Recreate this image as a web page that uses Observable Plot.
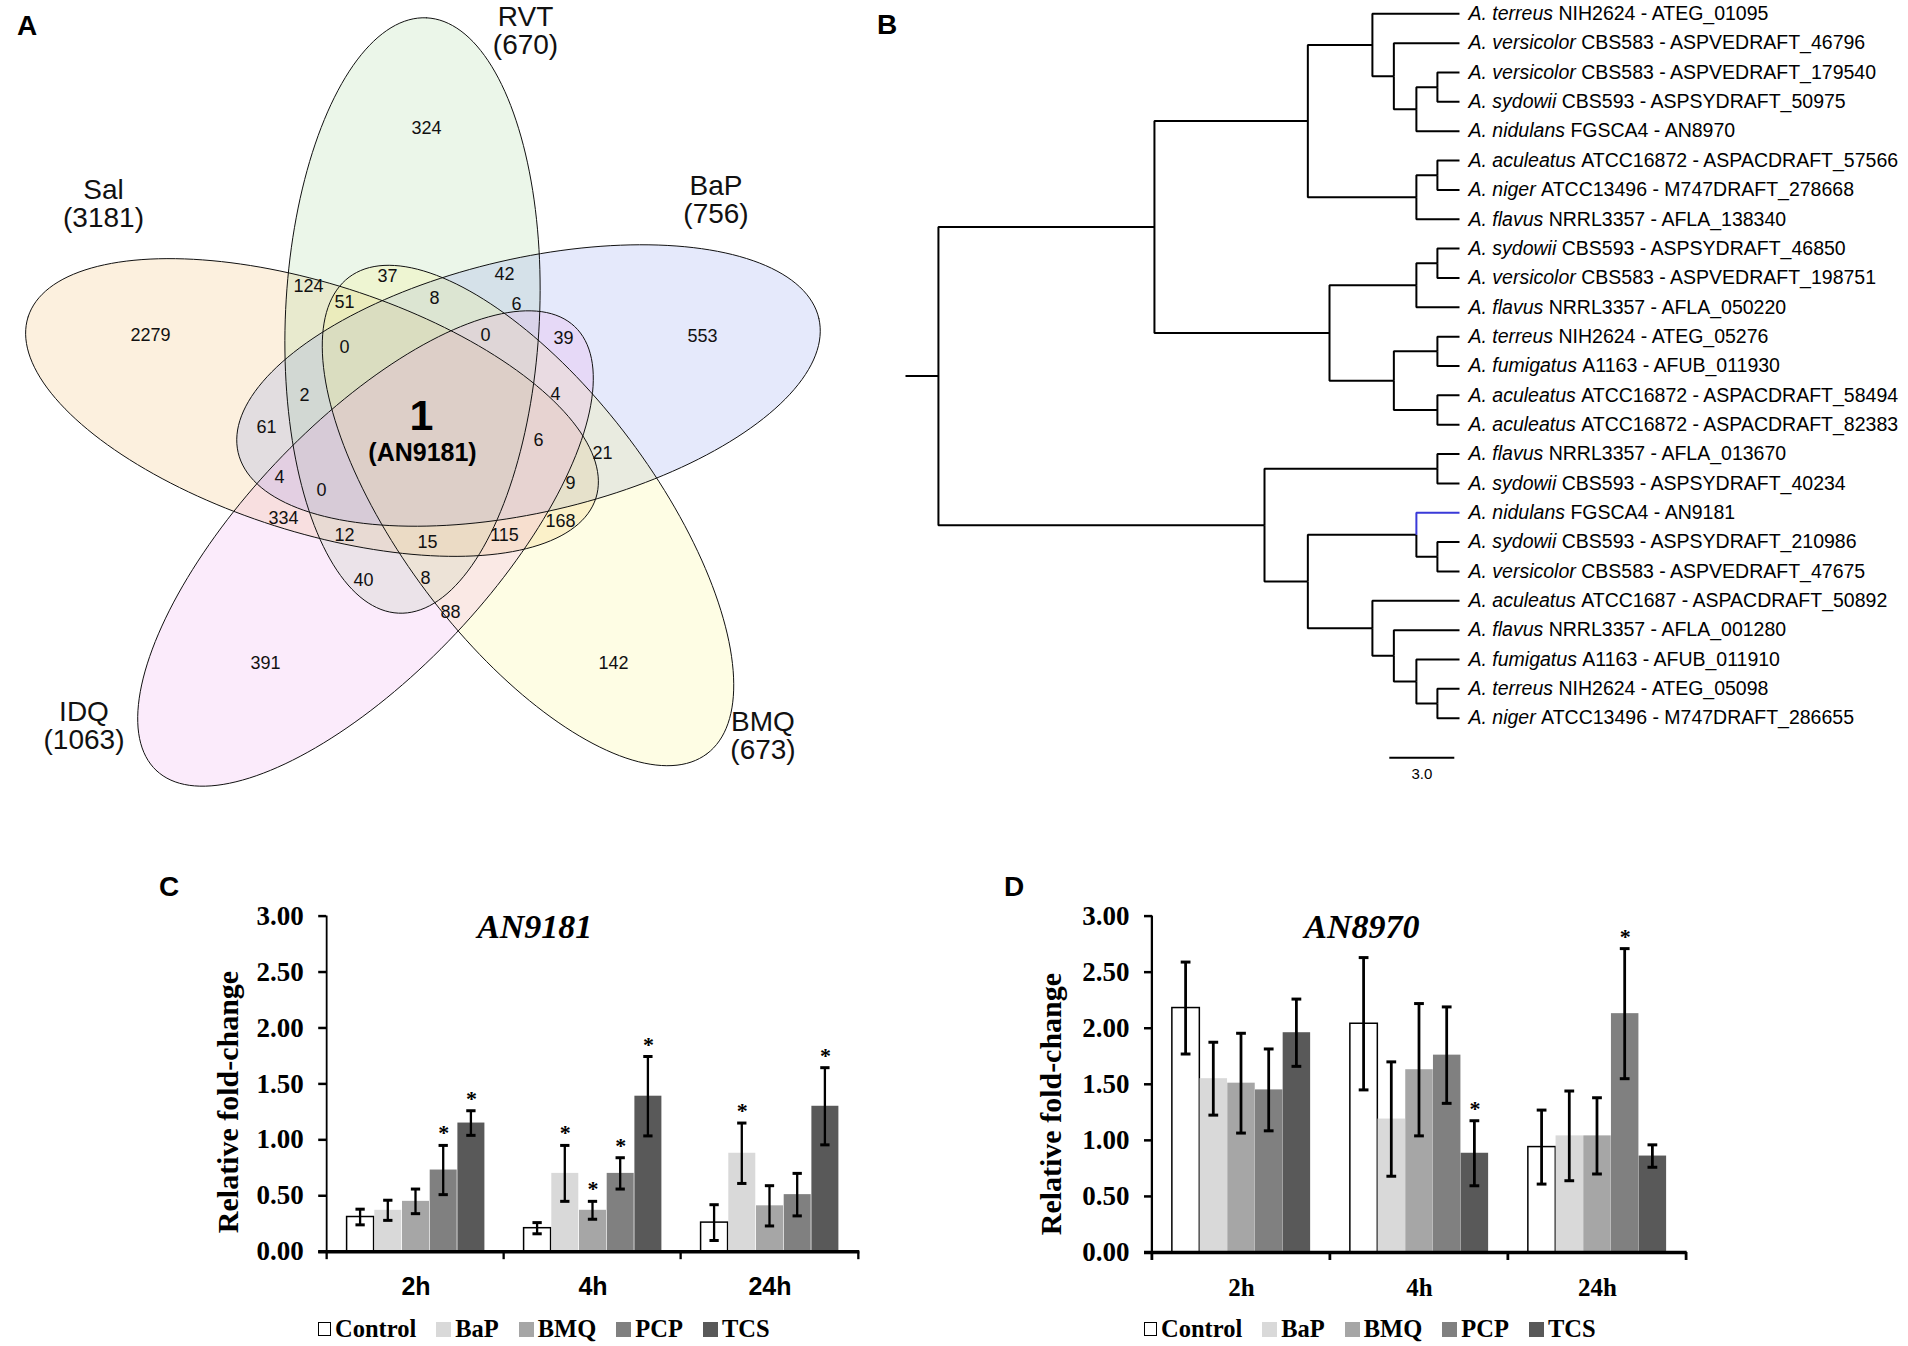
<!DOCTYPE html>
<html><head><meta charset="utf-8">
<script src="https://cdn.jsdelivr.net/npm/d3@7"></script>
<script src="https://cdn.jsdelivr.net/npm/@observablehq/plot@0.6"></script>
<style>
body{margin:0;background:#fff;}
#fig{position:relative;width:1908px;height:1346px;background:#fff;overflow:hidden;font-family:"Liberation Sans",Arial,sans-serif;}
.letter{position:absolute;font-weight:bold;font-size:28px;line-height:28px;}
.legend{position:absolute;display:flex;align-items:center;font-family:"Liberation Serif","Times New Roman",serif;font-weight:bold;font-size:24.5px;line-height:30px;white-space:nowrap;}
.legend .item{display:flex;align-items:center;margin-right:20px;}
.legend .sw{width:15px;height:15px;margin-right:4px;box-sizing:border-box;}
</style></head>
<body><div id="fig"></div>
<script>
// ================= DATA =================
// Panel A - Venn
const vennSets = ["Sal","RVT","BaP","BMQ","IDQ"];
const vennTotals = [3181,670,756,673,1063];
const vennCounts = [324,2279,553,142,391,124,37,42,51,8,6,0,0,39,2,4,61,6,21,4,0,9,334,168,12,15,115,40,8,88];
const vennCore = {count: "1", gene: "AN9181"};

// Panel B - tree (Newick, leaf ids index into the leaf arrays, branch lengths in scale units)
const treeNewick = "((((0:4.02,(1:3.03,((2:1.02,3:1.02):0.97,4:1.99):1.04):0.99):2.98,((5:1.02,6:1.02):0.97,7:1.99):5.01):7.08,(((8:1.02,9:1.02):0.97,10:1.99):4.01,((11:1.02,12:1.02):2.01,(13:1.02,14:1.02):2.01):2.97):8.08):9.97,((15:1.02,16:1.02):7.98,((17:1.99,(18:1.02,19:1.02):0.97):5.01,(20:4.02,(21:3.03,(22:1.99,(23:1.02,24:1.02):0.97):1.04):0.99):2.98):2.0):15.05):1.52;";
const leafSpecies = ["A. terreus","A. versicolor","A. versicolor","A. sydowii","A. nidulans","A. aculeatus","A. niger","A. flavus","A. sydowii","A. versicolor","A. flavus","A. terreus","A. fumigatus","A. aculeatus","A. aculeatus","A. flavus","A. sydowii","A. nidulans","A. sydowii","A. versicolor","A. aculeatus","A. flavus","A. fumigatus","A. terreus","A. niger"];
const leafStrains = ["NIH2624","CBS583","CBS583","CBS593","FGSCA4","ATCC16872","ATCC13496","NRRL3357","CBS593","CBS583","NRRL3357","NIH2624","A1163","ATCC16872","ATCC16872","NRRL3357","CBS593","FGSCA4","CBS593","CBS583","ATCC1687","NRRL3357","A1163","NIH2624","ATCC13496"];
const leafGenes = ["ATEG_01095","ASPVEDRAFT_46796","ASPVEDRAFT_179540","ASPSYDRAFT_50975","AN8970","ASPACDRAFT_57566","M747DRAFT_278668","AFLA_138340","ASPSYDRAFT_46850","ASPVEDRAFT_198751","AFLA_050220","ATEG_05276","AFUB_011930","ASPACDRAFT_58494","ASPACDRAFT_82383","AFLA_013670","ASPSYDRAFT_40234","AN9181","ASPSYDRAFT_210986","ASPVEDRAFT_47675","ASPACDRAFT_50892","AFLA_001280","AFUB_011910","ATEG_05098","M747DRAFT_286655"];
const highlightedGene = "AN9181";
const scaleBarLength = 3.0;
const scaleBarLabel = "3.0";

// Panels C & D - qPCR
const timePoints = ["2h","4h","24h"];
const treatments = ["Control","BaP","BMQ","PCP","TCS"];
const an9181Mean = [[0.31,0.37,0.45,0.73,1.15],[0.21,0.70,0.37,0.70,1.39],[0.26,0.88,0.41,0.51,1.30]];
const an9181Err  = [[0.07,0.09,0.11,0.22,0.11],[0.05,0.25,0.08,0.14,0.355],[0.16,0.27,0.18,0.19,0.345]];
const an9181Sig  = [[0,0,0,1,1],[0,1,1,1,1],[0,1,0,0,1]];
const an8970Mean = [[2.18,1.55,1.51,1.45,1.96],[2.04,1.19,1.63,1.76,0.885],[0.94,1.04,1.04,2.13,0.86]];
const an8970Err  = [[0.41,0.325,0.445,0.365,0.30],[0.59,0.51,0.59,0.43,0.29],[0.33,0.40,0.34,0.58,0.10]];
const an8970Sig  = [[0,0,0,0,0],[0,0,0,0,1],[0,0,0,1,0]];
const yTicks = [0,0.5,1,1.5,2,2.5,3];

// ================= LAYOUT / STYLE =================
const SANS = '"Liberation Sans", Arial, sans-serif';
const SERIF = '"Liberation Serif", "Times New Roman", serif';
// cx, cy, major-axis angle (deg), semi-major, semi-minor
const vennEllipses = [[311.5,407,287.7,298,124],[412,315,2.7,298,127],[528,385,77,298,127],[527.5,515,143.1,298,127],[365,548,223.3,305,124]];
const vennFills = ["#f0b45a","#9bd291","#7d91eb","#faf578","#eb9beb"];
const vennFillOpacity = 0.2;
const vennCountPos = [[426,128],[150,335],[702,336],[613,663],[265,663],[308,286],[387,276],[504,274],[344,302],[434,298],[516,304],[344,347],[485,335],[563,338],[304,395],[555,394],[266,427],[538,440],[602,453],[279,477],[321,490],[570,483],[283,518],[560,521],[344,535],[427,542],[504,535],[363,580],[425,578],[450,612]];
const vennSetPos = [[103,204],[525,31],[715.5,199.5],[762.5,735.5],[83.5,726]];
const vennCorePos = [[421,416],[422,452]];
const treatmentFills = ["#ffffff","#d9d9d9","#a6a6a6","#808080","#595959"];

const fig = document.getElementById("fig");
function place(node, left, top){ node.style.position="absolute"; node.style.left=left+"px"; node.style.top=top+"px"; fig.appendChild(node); return node; }

// ================= PANEL A =================
function ellipsePts([cx,cy,ang,ra,rb], set){
  const th = ang*Math.PI/180, u=[Math.sin(th),-Math.cos(th)], v=[Math.cos(th),Math.sin(th)];
  return d3.range(0,361,2).map(a=>{const t=a*Math.PI/180;
    return {set, x: cx+ra*Math.cos(t)*u[0]+rb*Math.sin(t)*v[0],
                 y: cy+ra*Math.cos(t)*u[1]+rb*Math.sin(t)*v[1]};});
}
const vennMarks = [];
vennSets.forEach((s,i)=>vennMarks.push(Plot.line(ellipsePts(vennEllipses[i], s), {x:"x", y:"y", fill: vennFills[i], fillOpacity: vennFillOpacity, stroke:"none"})));
vennSets.forEach((s,i)=>vennMarks.push(Plot.line(ellipsePts(vennEllipses[i], s), {x:"x", y:"y", stroke:"#111", strokeWidth:1})));
const countRows = vennCounts.map((c,i)=>({c, x: vennCountPos[i][0], y: vennCountPos[i][1]}));
vennMarks.push(Plot.text(countRows, {x:"x", y:"y", text: d=>String(d.c), fontSize:18, fontFamily:SANS, fill:"#111"}));
const setRows = vennSets.map((s,i)=>({t:`${s}\n(${vennTotals[i]})`, x: vennSetPos[i][0], y: vennSetPos[i][1]}));
vennMarks.push(Plot.text(setRows, {x:"x", y:"y", text:"t", fontSize:28, lineHeight:1.0, fontFamily:SANS, fill:"#111"}));
vennMarks.push(Plot.text([vennCore], {x:()=>vennCorePos[0][0], y:()=>vennCorePos[0][1], text:d=>d.count, fontSize:43, fontWeight:"bold", fontFamily:SANS, fill:"#000"}));
vennMarks.push(Plot.text([vennCore], {x:()=>vennCorePos[1][0], y:()=>vennCorePos[1][1], text:d=>`(${d.gene})`, fontSize:25, fontWeight:"bold", fontFamily:SANS, fill:"#000"}));
place(Plot.plot({width:880, height:800, margin:0,
  x:{domain:[0,880], range:[0,880], axis:null}, y:{domain:[0,800], range:[0,800], axis:null},
  style:{background:"transparent", overflow:"visible"}, marks: vennMarks}), 0, 0);

// ================= PANEL B =================
function parseNewick(s){
  let i=0;
  function node(){
    const n={children:[]};
    if(s[i]==="("){ i++; n.children.push(node()); while(s[i]===","){ i++; n.children.push(node()); } i++; }
    let name=""; while(i<s.length && !":,();".includes(s[i])) name+=s[i++];
    if(name!=="") n.leaf=+name;
    n.len=0;
    if(s[i]===":"){ i++; let num=""; while(i<s.length && !",();".includes(s[i])) num+=s[i++]; n.len=+num; }
    return n;
  }
  return node();
}
const treeRoot = parseNewick(treeNewick);
(function layout(n, px){ n.x = px + n.len; n.children.forEach(c=>layout(c, n.x));
  n.y = n.children.length ? (n.children[0].y + n.children[n.children.length-1].y)/2 : n.leaf; })(treeRoot, 0);
const links = [{x1:0, y1:treeRoot.y, x2:treeRoot.x, y2:treeRoot.y, hl:false}];
let tipX = 0;
(function walk(n){ if(!n.children.length) tipX=Math.max(tipX,n.x);
  n.children.forEach(c=>{ links.push({x1:n.x, y1:n.y, x2:c.x, y2:c.y, hl: c.leaf!==undefined && leafGenes[c.leaf]===highlightedGene}); walk(c); }); })(treeRoot);
const leaves = leafSpecies.map((sp,i)=>({i, sp, rest:`${leafStrains[i]} - ${leafGenes[i]}`}));
const LEAF_FONT = 19.5;
const ctx = document.createElement("canvas").getContext("2d");
ctx.font = `italic ${LEAF_FONT}px "Liberation Sans"`;
const treeMarks = [
  Plot.link(links.filter(d=>!d.hl), {x1:"x1", y1:"y1", x2:"x2", y2:"y2", curve:"step-before", stroke:"#000", strokeWidth:2}),
  Plot.link(links.filter(d=>d.hl), {x1:"x1", y1:"y1", x2:"x2", y2:"y2", curve:"step-before", stroke:"#3a3ad8", strokeWidth:2}),
  Plot.text(leaves, {x:()=>tipX, y:"i", text:"sp", textAnchor:"start", dx:9, fontStyle:"italic", fontSize:LEAF_FONT, fontFamily:SANS, fill:"#000"})
];
leaves.forEach(lf=>{
  const w = ctx.measureText(lf.sp+" ").width;
  treeMarks.push(Plot.text([lf], {x:()=>tipX, y:"i", text:"rest", textAnchor:"start", dx:9+w, fontSize:LEAF_FONT, fontFamily:SANS, fill:"#000"}));
});
const sbStart = 22.33, sbY = 25.35;
treeMarks.push(Plot.link([{x1:sbStart, x2:sbStart+scaleBarLength}], {x1:"x1", x2:"x2", y1:()=>sbY, y2:()=>sbY, stroke:"#000", strokeWidth:2}));
treeMarks.push(Plot.text([scaleBarLabel], {x:()=>sbStart+scaleBarLength/2, y:()=>sbY, text:d=>d, dy:16, fontSize:15, fontFamily:SANS, fill:"#000"}));
place(Plot.plot({width:1028, height:790, margin:0,
  x:{domain:[0,tipX], range:[25,579], axis:null}, y:{domain:[0,24], range:[13.3,717.7], axis:null},
  style:{background:"transparent", overflow:"visible"}, marks: treeMarks}), 880, 0);

// ================= PANELS C & D =================
function rowsFor(means, errs, sig){
  const rows=[];
  timePoints.forEach((t,i)=>treatments.forEach((g,k)=>rows.push({time:t, treatment:g, k, mean:means[i][k], err:errs[i][k], star:!!sig[i][k]})));
  return rows;
}
function barPanel(cfg){
  const {rows, title, svgLeft, svgTop, frameLeft, frameRight, yTop, yZero, timeFont, titleDx, titleY, labelX, labelY} = cfg;
  const marginBottom = 60, extraRight = 30;
  const width = frameRight - svgLeft + extraRight;
  const marginLeft = frameLeft - svgLeft, marginRight = extraRight;
  const marginTop = yTop - svgTop;
  const height = yZero - svgTop + marginBottom;
  const bw = (frameRight-frameLeft)/timePoints.length;
  const pxPerUnit = (yZero-yTop)/3;
  const barW = 27.7, stemW = 3, capW = 10, tickLen = 8;
  const marks = [];
  treatments.forEach((t,k)=>{
    const sub = rows.filter(r=>r.k===k);
    const dx = (k-2)*barW;
    const ib = (bw-barW)/2, is = (bw-stemW)/2, ic = (bw-capW)/2;
    marks.push(Plot.barY(sub, {x:"time", y1:()=>0, y2:"mean", fill:treatmentFills[k], stroke: k===0?"#000":"none", strokeWidth:1.5, insetLeft:ib+dx, insetRight:ib-dx}));
    marks.push(Plot.barY(sub, {x:"time", y1:d=>d.mean-d.err, y2:d=>d.mean+d.err, fill:"#000", insetLeft:is+dx, insetRight:is-dx}));
    marks.push(Plot.tickY(sub, {x:"time", y:d=>d.mean+d.err, stroke:"#000", strokeWidth:3, insetLeft:ic+dx, insetRight:ic-dx}));
    marks.push(Plot.tickY(sub, {x:"time", y:d=>d.mean-d.err, stroke:"#000", strokeWidth:3, insetLeft:ic+dx, insetRight:ic-dx}));
    marks.push(Plot.text(sub.filter(d=>d.star), {x:"time", y:d=>d.mean+d.err, text:()=>"*", dx, dy:-12, fontSize:22, fontWeight:"bold", fontFamily:SERIF, fill:"#000"}));
  });
  marks.push(Plot.barY([timePoints[0]], {x:d=>d, y1:()=>0, y2:()=>3, fill:"#000", insetLeft:-1.25, insetRight:bw-1.25}));
  marks.push(Plot.ruleY([0], {stroke:"#000", strokeWidth:3.5, insetLeft:-8}));
  marks.push(Plot.barY(timePoints, {x:d=>d, y1:()=>0, y2:()=>-tickLen/pxPerUnit, fill:"#000", insetLeft:-1.5, insetRight:bw-1.5}));
  marks.push(Plot.barY([timePoints[timePoints.length-1]], {x:d=>d, y1:()=>0, y2:()=>-tickLen/pxPerUnit, fill:"#000", insetLeft:bw-1.5, insetRight:-1.5}));
  marks.push(Plot.axisY({ticks:yTicks, tickFormat:d=>d.toFixed(2), tickSize:8, tickPadding:15, strokeWidth:2.5, fontSize:27, fontWeight:"bold", fontFamily:SERIF, fill:"#000", label:null}));
  marks.push(Plot.text(timePoints, {x:d=>d, text:d=>d, frameAnchor:"bottom", lineAnchor:"middle", dy:35.5, fontSize:25, fontWeight:"bold", fontFamily:timeFont, fill:"#000"}));
  marks.push(Plot.text([title], {text:d=>d, frameAnchor:"top", textAnchor:"middle", lineAnchor:"middle", dx:titleDx, dy:titleY-yTop, fontSize:34, fontWeight:"bold", fontStyle:"italic", fontFamily:SERIF, fill:"#000"}));
  marks.push(Plot.text(["Relative fold-change"], {text:d=>d, frameAnchor:"left", textAnchor:"middle", lineAnchor:"middle", rotate:-90, dx:labelX-frameLeft, dy:labelY-(yTop+yZero)/2, fontSize:30, fontWeight:"bold", fontFamily:SERIF, fill:"#000"}));
  place(Plot.plot({width, height, marginLeft, marginRight, marginTop, marginBottom,
    x:{domain:timePoints, type:"band", padding:0, axis:null},
    y:{domain:[0,3], label:null},
    style:{background:"transparent", overflow:"visible"}, marks}), svgLeft, svgTop);
}
barPanel({rows: rowsFor(an9181Mean, an9181Err, an9181Sig), title:"AN9181", svgLeft:150, svgTop:880, frameLeft:326.2, frameRight:859.3, yTop:915.6, yZero:1251.2, timeFont:SANS, titleDx:-58.5, titleY:927, labelX:227.5, labelY:1101.5});
barPanel({rows: rowsFor(an8970Mean, an8970Err, an8970Sig), title:"AN8970", svgLeft:1000, svgTop:880, frameLeft:1152, frameRight:1686.7, yTop:915.6, yZero:1252, timeFont:SERIF, titleDx:-58, titleY:927, labelX:1051, labelY:1103.6});

function legend(left, top){
  const div = document.createElement("div"); div.className="legend";
  treatments.forEach((t,k)=>{
    const item=document.createElement("div"); item.className="item";
    const sw=document.createElement("div"); sw.className="sw";
    sw.style.background=treatmentFills[k];
    if(k===0){ sw.style.border="1.5px solid #000"; sw.style.width="13px"; sw.style.height="14px"; }
    const tx=document.createElement("span"); tx.textContent=t;
    item.appendChild(sw); item.appendChild(tx); div.appendChild(item);
  });
  place(div, left, top);
}
legend(318, 1314);
legend(1144, 1314);

[["A",17,12],["B",877,11],["C",159,873],["D",1004,873]].forEach(([t,x,y])=>{
  const d=document.createElement("div"); d.className="letter"; d.textContent=t; place(d,x,y);
});
</script></body></html>
